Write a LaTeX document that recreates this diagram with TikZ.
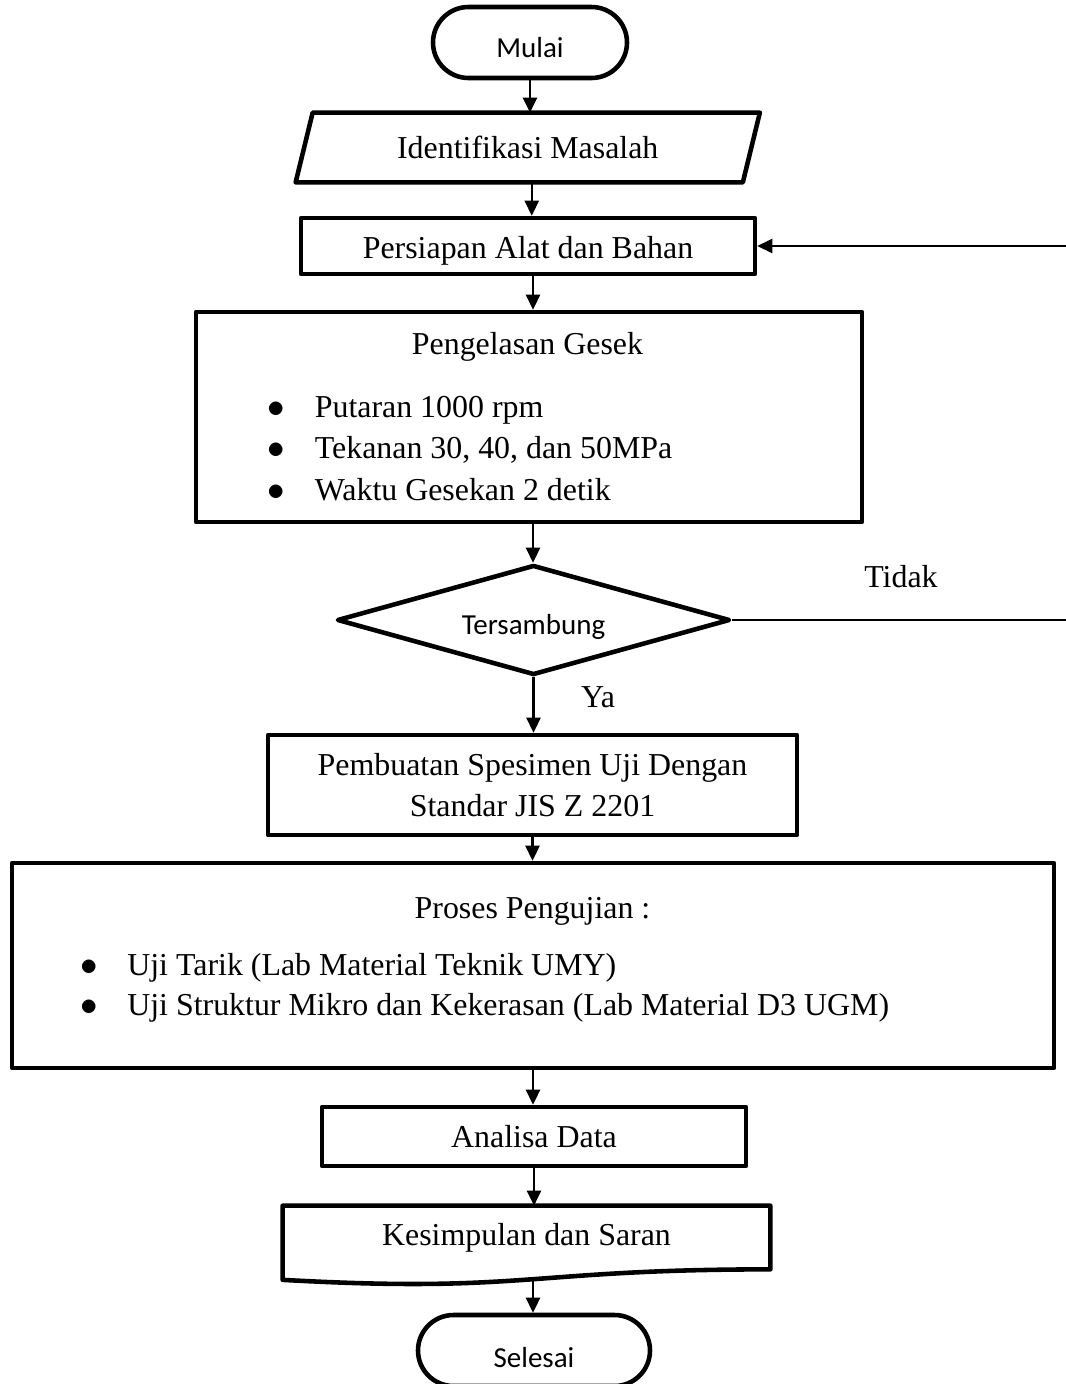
\documentclass[tikz,border=0pt]{standalone}
\usepackage{fontspec}
\setmainfont{Liberation Serif}
\newfontfamily\calibri{Carlito}
\usetikzlibrary{shapes.geometric,shapes.misc,arrows.meta,calc}

\newcommand{\blt}{\makebox[0.94cm][l]{\scalebox{1.15}{$\bullet$}}}

\begin{document}
\begin{tikzpicture}[
    font=\fontsize{18.15}{23.5}\selectfont,
    box/.style={draw,line width=2.6pt,line join=round,inner sep=0pt,align=center},
    term/.style={box,rounded rectangle,font=\calibri\fontsize{16.5}{20}\selectfont},
    decision/.style={box,diamond,aspect=3.57,font=\calibri\fontsize{16.5}{20}\selectfont},
    item/.style={anchor=base west,inner sep=0pt},
    arr/.style={-{Triangle[length=0.3cm,width=0.28cm]},line width=1.4pt},
  ]
  \useasboundingbox (0,0) rectangle (21.3,-27.68);

  \node[term,minimum width=3.88cm,minimum height=1.42cm] (mulai) at (10.6,-0.85)
    {\raisebox{-0.29cm}[0pt][0pt]{Mulai}};
  \node[minimum width=8.93cm,minimum height=1.38cm,inner sep=0pt] (ident) at (10.555,-2.95)
    {Identifikasi Masalah};
  \draw[box] ([xshift=0.17cm]ident.north west) -- ([xshift=0.17cm]ident.north east)
    -- ([xshift=-0.17cm]ident.south east) -- ([xshift=-0.17cm]ident.south west) -- cycle;
  \node[box,minimum width=9.08cm,minimum height=1.12cm] (persiapan) at (10.56,-4.92)
    {\raisebox{-0.24cm}[0pt][0pt]{Persiapan Alat dan Bahan}};

  \node[box,minimum width=13.32cm,minimum height=4.2cm] (gesek) at (10.58,-8.34) {};
  \node[anchor=base,inner sep=0pt] (gesektitle) at (10.55,-7.08) {Pengelasan Gesek};
  \foreach \t [count=\i] in {Putaran 1000 rpm,{Tekanan 30, 40, dan 50MPa},Waktu Gesekan 2 detik}
    \node[item] (gesek\i) at (5.35,{-8.34-0.83*(\i-1)}) {\blt\t};

  \node[decision,minimum width=7.86cm,minimum height=2.2cm] (sambung) at (10.67,-12.4)
    {\raisebox{-0.28cm}[0pt][0pt]{Tersambung}};
  \node (tidak) at (18.02,-11.54) {Tidak};
  \node (ya) at (11.96,-13.94) {Ya};

  \node[box,minimum width=10.58cm,minimum height=2cm] (spesimen) at (10.65,-15.7)
    {Pembuatan Spesimen Uji Dengan\\Standar JIS Z 2201};

  \node[box,minimum width=20.84cm,minimum height=4.1cm] (uji) at (10.66,-19.31) {};
  \node[anchor=base,inner sep=0pt] (ujititle) at (10.65,-18.36) {Proses Pengujian :};
  \foreach \t [count=\i] in {Uji Tarik (Lab Material Teknik UMY),
      Uji Struktur Mikro dan Kekerasan (Lab Material D3 UGM)}
    \node[item] (uji\i) at (1.6,{-19.5-0.8*(\i-1)}) {\blt\t};

  \node[box,minimum width=8.48cm,minimum height=1.18cm] (analisa) at (10.68,-22.73)
    {Analisa Data};

  \node[minimum width=9.74cm,minimum height=1.26cm,inner sep=0pt] (simpul) at (10.53,-24.75)
    {Kesimpulan dan Saran};
  \draw[line width=2.6pt,line join=round] (simpul.north west) -- (simpul.north east)
    -- (simpul.south east) .. controls (simpul.south) and ($(simpul.south)+(0,-0.48)$)
    .. ($(simpul.south west)+(0,-0.21)$) -- cycle;
  \coordinate (simpulbot) at ($(simpul.south)+(0.13,-0.2)$);

  \node[term,minimum width=4.64cm,minimum height=1.42cm] (selesai) at (10.68,-27.01)
    {\raisebox{-0.33cm}[0pt][0pt]{Selesai}};

  \draw[arr] (mulai.south) -- (mulai.south |- ident.north);
  \draw[arr] ([xshift=0.08cm]ident.south) -- ([xshift=0.08cm]ident.south |- persiapan.north);
  \draw[arr] ([xshift=0.1cm]persiapan.south) -- ([xshift=0.1cm]persiapan.south |- gesek.north);
  \draw[arr] ([xshift=0.08cm]gesek.south) -- ([xshift=0.08cm]gesek.south |- sambung.north);
  \draw[arr] (sambung.south) -- (sambung.south |- spesimen.north);
  \draw[arr] (spesimen.south) -- (spesimen.south |- uji.north);
  \draw[arr] (uji.south) -- (uji.south |- analisa.north);
  \draw[arr] (analisa.south) -- (analisa.south |- simpul.north);
  \draw[arr] (simpulbot) -- (simpulbot |- selesai.north);

  \coordinate (balik) at (21.5,-12.4);
  \draw[arr] (sambung.east) -- (balik) |- (persiapan.east);
\end{tikzpicture}
\end{document}
